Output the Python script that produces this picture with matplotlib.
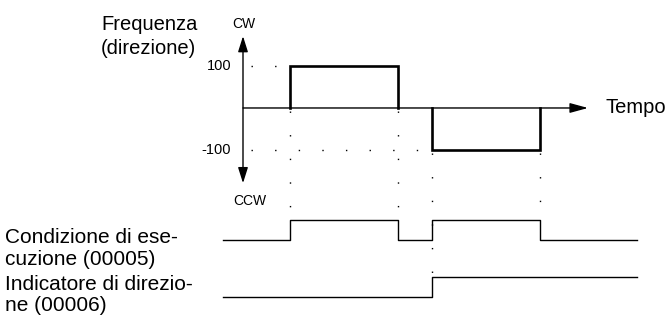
import matplotlib
matplotlib.use("Agg")
import matplotlib.pyplot as plt

plt.rcParams["font.family"] = ["Liberation Sans", "DejaVu Sans"]

# --- data -----------------------------------------------------------------
# frequency pulses: (start, end, level)
pulse_start = [0.47, 1.89]
pulse_end = [1.55, 2.97]
pulse_level = [100, -100]
freq_ticks = [100, -100]
freq_tick_labels = ["100", "-100"]

# execution condition (00005), step signal
cond_t = [-0.20, 0.47, 1.55, 1.89, 2.97, 3.94]
cond_v = [0, 1, 0, 1, 0, 0]

# direction flag (00006), step signal
dir_t = [-0.20, 1.89, 3.94]
dir_v = [0, 1, 1]

time_axis_end = 3.45
freq_axis_top = 171
freq_axis_bottom = -179

# --- figure ---------------------------------------------------------------
fig = plt.figure(figsize=(6.67, 3.2), dpi=100)
XLIM = (-2.43, 4.24)

ax_f = fig.add_axes([0, 0, 1, 1])
ax_f.set_xlim(*XLIM)
ax_f.set_ylim(-504.8, 257.1)

ax_c = fig.add_axes([0, 0, 1, 1], sharex=ax_f)
ax_c.set_ylim(-4, 12)

ax_d = fig.add_axes([0, 0, 1, 1], sharex=ax_f)
ax_d.set_ylim(-1.15, 14.85)

for a in (ax_f, ax_c, ax_d):
    a.axis("off")
    a.patch.set_alpha(0)


def to_f(ax, t, v):
    """porta il punto (t, v) di un altro asse nelle coordinate di ax_f"""
    disp = ax.transData.transform((t, v))
    return ax_f.transData.inverted().transform(disp)[1]


# assi frequenza / tempo
ax_f.annotate("", xy=(0, freq_axis_top), xytext=(0, freq_axis_bottom),
              arrowprops=dict(arrowstyle="<|-|>,head_length=0.95,head_width=0.3",
                              mutation_scale=10, lw=1.0, color="black",
                              shrinkA=0, shrinkB=0))
ax_f.annotate("", xy=(time_axis_end, 0), xytext=(0, 0),
              arrowprops=dict(arrowstyle="-|>,head_length=1.1,head_width=0.3",
                              mutation_scale=10, lw=1.0, color="black",
                              shrinkA=0, shrinkB=0))

# impulsi di frequenza
for t0, t1, lv in zip(pulse_start, pulse_end, pulse_level):
    ax_f.plot([t0, t0, t1, t1], [0, lv, lv, 0], color="black", lw=1.9,
              solid_joinstyle="miter")

# linee guida puntinate
dot = dict(color="black", lw=1.0, linestyle=(0, (1, 16)), dash_capstyle="butt")
ax_f.plot([0.08, pulse_start[0]], [100, 100], **dot)
ax_f.plot([0.08, pulse_start[1]], [-100, -100], **dot)
c_hi = to_f(ax_c, 0, 1)
d_hi = to_f(ax_d, 0, 1)
ax_f.plot([pulse_start[0]] * 2, [-8, c_hi], **dot)
ax_f.plot([pulse_end[0]] * 2, [-8, c_hi], **dot)
ax_f.plot([pulse_start[1]] * 2, [-108, d_hi], **dot)
ax_f.plot([pulse_end[1]] * 2, [-108, c_hi], **dot)

# segnali digitali
ax_c.step(cond_t, cond_v, where="post", color="black", lw=1.0)
ax_d.step(dir_t, dir_v, where="post", color="black", lw=1.0)

# testi
for v, lab in zip(freq_ticks, freq_tick_labels):
    ax_f.text(-0.12, v, lab, ha="right", va="center", fontsize=10.5)
ax_f.text(0.005, freq_axis_top + 12, "CW", ha="center", va="bottom", fontsize=10)
ax_f.text(0.07, freq_axis_bottom - 26, "CCW", ha="center", va="top", fontsize=10)
ax_f.text(time_axis_end + 0.17, 0, "Tempo", ha="left", va="center", fontsize=14.5)


def px_text(x, y, s, **kw):
    fig.text(x / 667, 1 - y / 320, s, **kw)


px_text(101, 30, "Frequenza", ha="left", va="baseline", fontsize=14.5)
px_text(101, 54, "(direzione)", ha="left", va="baseline", fontsize=14.5)
px_text(5, 243, "Condizione di ese-", ha="left", va="baseline", fontsize=15)
px_text(5, 265, "cuzione (00005)", ha="left", va="baseline", fontsize=15)
px_text(5, 290, "Indicatore di direzio-", ha="left", va="baseline", fontsize=15)
px_text(5, 311, "ne (00006)", ha="left", va="baseline", fontsize=15)

fig.savefig("out.png", dpi=100)
